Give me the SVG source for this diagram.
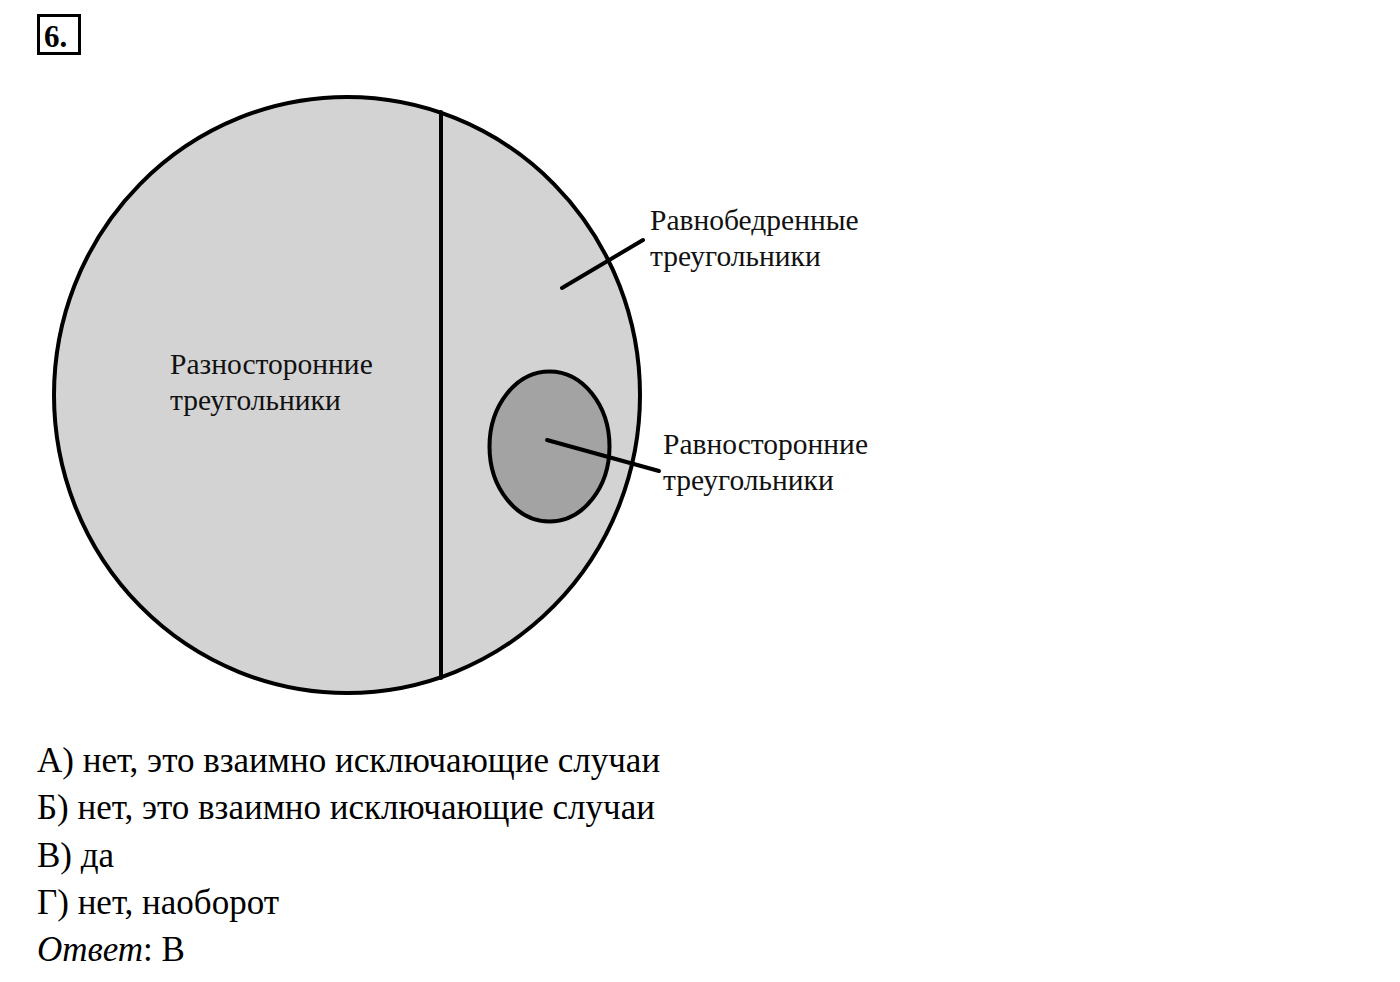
<svg xmlns="http://www.w3.org/2000/svg" width="1400" height="982" viewBox="0 0 1400 982">
<style>
.lbl{font-family:"Liberation Serif","DejaVu Serif",serif;font-size:29.5px;fill:#111}
.ans{font-family:"Liberation Serif","DejaVu Serif",serif;font-size:35px;fill:#000}
.ln{stroke:#000;stroke-width:4;fill:none;stroke-linecap:round}
</style>
<rect width="1400" height="982" fill="#fff"/>
<g id="num">
<rect x="38.5" y="15.5" width="41" height="38" fill="#fff" stroke="#000" stroke-width="3"/>
<text x="44" y="47" font-family="Liberation Serif,serif" font-weight="bold" font-size="31">6.</text>
</g>
<g id="isosceles">
<ellipse cx="347" cy="395" rx="293" ry="298" fill="#d3d3d3" stroke="#000" stroke-width="4"/>
<line class="ln" x1="441" y1="112" x2="441" y2="678"/>
</g>
<g id="equilateral">
<ellipse cx="549.5" cy="446.5" rx="60" ry="75" fill="#a3a3a3" stroke="#000" stroke-width="4"/>
</g>
<g id="connectors">
<line class="ln" x1="562" y1="288" x2="643" y2="240"/>
<line class="ln" x1="547" y1="440" x2="659" y2="471"/>
</g>
<g id="lbl-scalene">
<text class="lbl" x="170" y="374">Разносторонние</text>
<text class="lbl" x="170" y="410">треугольники</text>
</g>
<g id="lbl-isosceles">
<text class="lbl" x="650" y="230">Равнобедренные</text>
<text class="lbl" x="650" y="266">треугольники</text>
</g>
<g id="lbl-equilateral">
<text class="lbl" x="663" y="454">Равносторонние</text>
<text class="lbl" x="663" y="490">треугольники</text>
</g>
<g id="answers">
<text class="ans" x="37" y="772">А) нет, это взаимно исключающие случаи</text>
<text class="ans" x="37" y="819">Б) нет, это взаимно исключающие случаи</text>
<text class="ans" x="37" y="867">В) да</text>
<text class="ans" x="37" y="914">Г) нет, наоборот</text>
<text class="ans" x="37" y="961"><tspan font-style="italic">Ответ</tspan>: В</text>
</g>
</svg>
